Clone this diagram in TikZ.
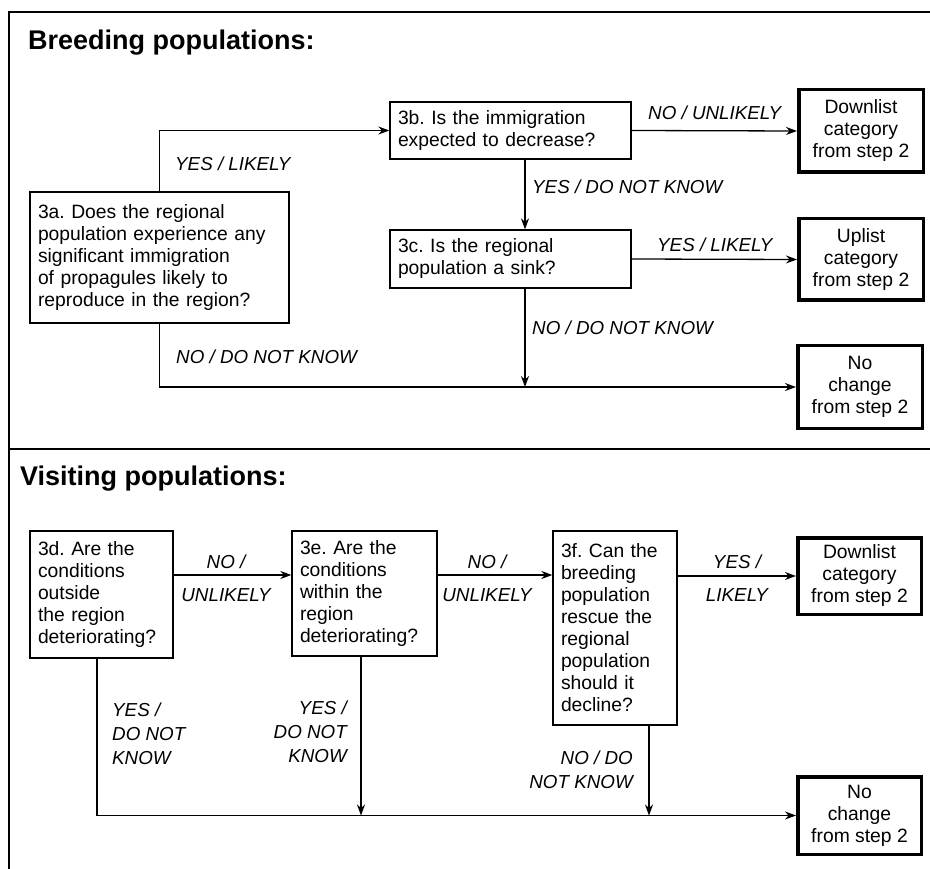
\documentclass[tikz,border=0pt]{standalone}
\usepackage{fontspec}
\setmainfont{Liberation Sans}
\usetikzlibrary{arrows.meta}
\begin{document}
\frenchspacing
\begin{tikzpicture}[x=1pt,y=-1pt,
  every node/.style={font=\fontsize{19.3}{22}\selectfont},
  qbox/.style={draw, line width=1.3pt, inner xsep=8pt, inner ysep=0pt, align=left},
  rbox/.style={draw, line width=3.5pt, align=center, inner sep=0pt},
  lbl/.style={font=\fontsize{18.8}{24}\selectfont\itshape, inner sep=0pt},
  lbltwo/.style={font=\fontsize{18.8}{33}\selectfont\itshape, inner sep=0pt, align=center, anchor=base},
  arr/.style={line width=1.3pt, -{Stealth[length=11pt,width=8pt]}},
  frame/.style={line width=1.5pt},
  title/.style={font=\fontsize{27}{30}\selectfont\bfseries, inner sep=0pt, anchor=base west}]
\useasboundingbox (0,0) rectangle (930,869);

% frame
\coordinate (tl) at (9,12);
\coordinate (tr) at (930,12);
\coordinate (bl) at (9,869);
\coordinate (ml) at (9,449);
\coordinate (mr) at (930,449);
\draw[frame] (tr) -- (tl) -- (bl);
\draw[frame] (ml) -- (mr);

% titles
\node[title] (t1) at (28,50) {Breeding populations:};
\node[title] (t2) at (20,485) {Visiting populations:};

% breeding boxes
\node[qbox, text width=243pt, minimum width=259pt, minimum height=131pt] (a) at (159.5,257.5)
  {3a. Does the regional\\population experience any\\significant immigration\\of propagules likely to\\reproduce in the region?};
\node[qbox, text width=225pt, minimum width=241pt, minimum height=57pt] (b) at (510.5,130.5)
  {3b. Is the immigration\\expected to decrease?};
\node[qbox, text width=225pt, minimum width=241pt, minimum height=58pt] (c) at (510.5,259)
  {3c. Is the regional\\population a sink?};
\node[rbox, minimum width=124.5pt, minimum height=82.5pt] (dl1) at (861,131)
  {Downlist\\category\\from step 2};
\node[rbox, minimum width=124.5pt, minimum height=81.5pt] (up) at (861,259.5)
  {Uplist\\category\\from step 2};
\node[rbox, minimum width=124.5pt, minimum height=82.5pt] (nc1) at (860,387)
  {No\\change\\from step 2};

% visiting boxes
\node[qbox, text width=127pt, minimum width=143pt, minimum height=127pt] (d) at (101.5,594.5)
  {3d. Are the\\conditions\\outside\\the region\\deteriorating?};
\node[qbox, text width=129pt, minimum width=145pt, minimum height=125pt] (e) at (364.5,593.5)
  {3e. Are the\\conditions\\within the\\region\\deteriorating?};
\node[qbox, text width=108pt, minimum width=124pt, minimum height=194pt] (f) at (615,628)
  {3f. Can the\\breeding\\population\\rescue the\\regional\\population\\should it\\decline?};
\node[rbox, minimum width=123.5pt, minimum height=76.5pt] (dl2) at (859.5,576)
  {Downlist\\category\\from step 2};
\node[rbox, minimum width=123.5pt, minimum height=77.5pt] (nc2) at (859.5,815.5)
  {No\\change\\from step 2};

% helper coordinates
\coordinate (v1) at (525,0);
\coordinate (v2) at (649,0);
\coordinate (v3) at (97,0);
\coordinate (v4) at (361,0);
\coordinate (h1) at (0,575);

% breeding connectors
\draw[arr] (a.north) |- (b.west);
\draw[arr] (b.east) -- (dl1.west);
\draw[arr] (b.south -| v1) -- (c.north -| v1);
\draw[arr] (c.east) -- (up.west);
\draw[arr] (a.south) |- (nc1.west);
\coordinate (j1) at (nc1.west -| v1);
\draw[arr] (c.south -| v1) -- (j1);

% visiting connectors
\draw[arr] (d.east |- h1) -- (e.west |- h1);
\draw[arr] (e.east |- h1) -- (f.west |- h1);
\draw[arr] (f.east |- dl2.west) -- (dl2.west);
\draw[arr] (d.south -| v3) |- (nc2.west);
\coordinate (j2) at (nc2.west -| v4);
\coordinate (j3) at (nc2.west -| v2);
\draw[arr] (e.south -| v4) -- (j2);
\draw[arr] (f.south -| v2) -- (j3);

% labels
\node[lbl, anchor=base west] (l1) at (175,171) {YES / LIKELY};
\node[lbl, anchor=base west] (l2) at (648,120) {NO / UNLIKELY};
\node[lbl, anchor=base west] (l3) at (532,194) {YES / DO NOT KNOW};
\node[lbl, anchor=base west] (l4) at (657,252) {YES / LIKELY};
\node[lbl, anchor=base west] (l5) at (532,335) {NO / DO NOT KNOW};
\node[lbl, anchor=base west] (l6) at (176,363) {NO / DO NOT KNOW};
\node[lbltwo] (l7) at (226,601) {NO /\\UNLIKELY};
\node[lbltwo] (l8) at (487,601) {NO /\\UNLIKELY};
\node[lbltwo] (l9) at (737,601) {YES /\\LIKELY};
\node[lbl, anchor=base west, align=left] (l10) at (112,764) {YES /\\DO NOT\\KNOW};
\node[lbl, anchor=base east, align=right] (l11) at (347,762) {YES /\\DO NOT\\KNOW};
\node[lbl, anchor=base east, align=right] (l12) at (633,788) {NO / DO\\NOT KNOW};
\end{tikzpicture}
\end{document}
